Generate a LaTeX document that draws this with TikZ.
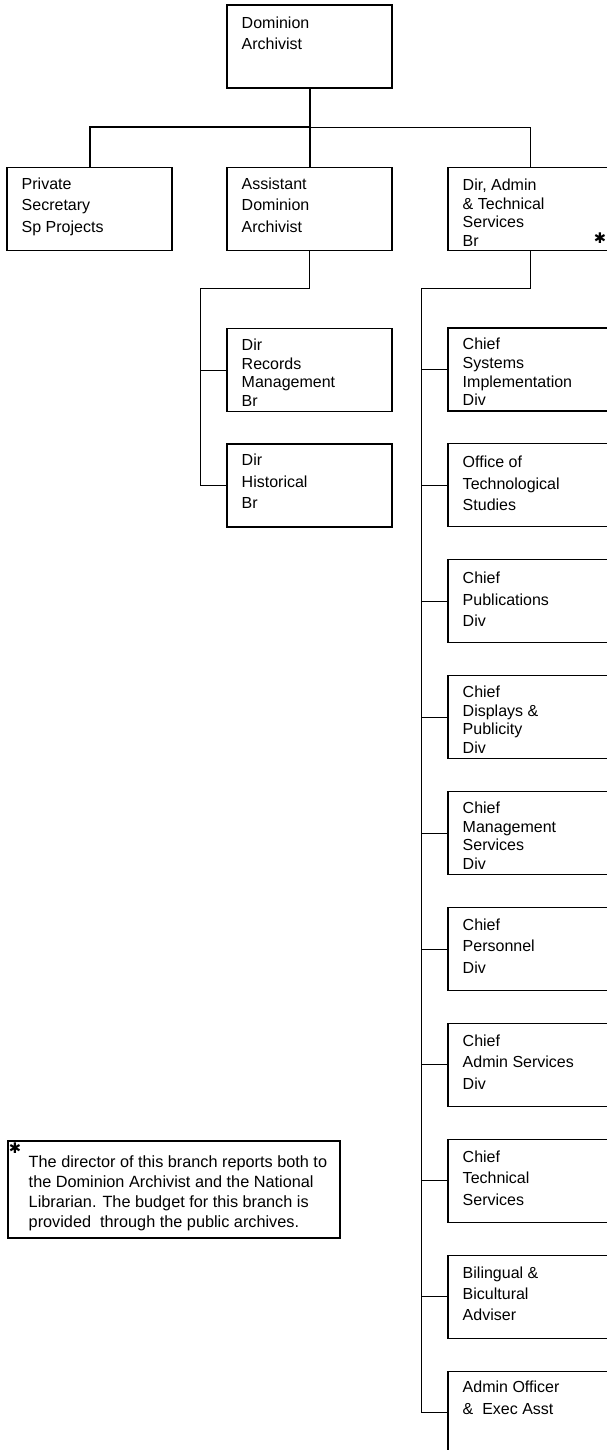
\documentclass[tikz,border=0pt]{standalone}
\usepackage{fontspec}
\setmainfont{Liberation Sans}
\newfontfamily\symfont{DejaVu Sans}
\usepackage{tikz}
\usetikzlibrary{positioning}

\begin{document}
\begin{tikzpicture}[
    x=0.75pt, y=-0.75pt,
    every node/.style={font=\fontsize{12}{16.1}\selectfont},
    box/.style={rectangle, draw=black, line width=0.8pt, minimum width=123.75pt, minimum height=62.25pt, inner sep=0pt},
    lbl/.style={anchor=north west, inner sep=0pt, align=left},
    tight/.style={font=\fontsize{12}{14}\selectfont},
    note/.style={font=\fontsize{12.2}{15.2}\selectfont},
    star/.style={inner sep=0pt, font=\symfont\fontsize{11}{11}\selectfont},
    link/.style={line width=0.75pt},
    trunk/.style={line width=1.5pt}
    ]
    \useasboundingbox (0,0) rectangle (607,1450);
    \node[box] (A) at (309.5,46.5) {};
    \node[lbl] (At) at ([shift={(15,12)}]A.north west) {Dominion\\Archivist};
    \node[box] (B) at (89.5,209) {};
    \node[lbl] (Bt) at ([shift={(15,10.5)}]B.north west) {Private\\Secretary\\Sp Projects};
    \node[box] (C) at (309.5,209) {};
    \node[lbl] (Ct) at ([shift={(15,10.5)}]C.north west) {Assistant\\Dominion\\Archivist};
    \node[box] (D) at (530.5,209) {};
    \node[lbl, tight] (Dt) at ([shift={(15,11.5)}]D.north west) {Dir, Admin\\\& Technical\\Services\\Br};
    \node[star] (Ds) at (600,238) {✱};
    \node[box] (E) at (309.5,370) {};
    \node[lbl, tight] (Et) at ([shift={(15,10.5)}]E.north west) {Dir\\Records\\Management\\Br};
    \node[box] (F) at (309.5,485.5) {};
    \node[lbl] (Ft) at ([shift={(15,10.5)}]F.north west) {Dir\\Historical\\Br};
    \node[box] (G) at (530.5,369.5) {};
    \node[lbl, tight] (Gt) at ([shift={(15,10.5)}]G.north west) {Chief\\Systems\\Implementation\\Div};
    \node[box] (H) at (530.5,485.4) {};
    \node[lbl] (Ht) at ([shift={(15,12.5)}]H.north west) {Office of\\Technological\\Studies};
    \node[box] (I) at (530.5,601.3) {};
    \node[lbl] (It) at ([shift={(15,12.5)}]I.north west) {Chief\\Publications\\Div};
    \node[box] (J) at (530.5,717.2) {};
    \node[lbl, tight] (Jt) at ([shift={(15,10.5)}]J.north west) {Chief\\Displays \&\\Publicity\\Div};
    \node[box] (K) at (530.5,833.1) {};
    \node[lbl, tight] (Kt) at ([shift={(15,10.5)}]K.north west) {Chief\\Management\\Services\\Div};
    \node[box] (L) at (530.5,949) {};
    \node[lbl] (Lt) at ([shift={(15,11.5)}]L.north west) {Chief\\Personnel\\Div};
    \node[box] (M) at (530.5,1064.9) {};
    \node[lbl] (Mt) at ([shift={(15,11.5)}]M.north west) {Chief\\Admin Services\\Div};
    \node[box] (N) at (530.5,1180.8) {};
    \node[lbl] (Nt) at ([shift={(15,11.5)}]N.north west) {Chief\\Technical\\Services};
    \node[box] (O) at (530.5,1296.7) {};
    \node[lbl] (Ot) at ([shift={(15,11.5)}]O.north west) {Bilingual \&\\Bicultural\\Adviser};
    \node[box] (P) at (530.5,1412.6) {};
    \node[lbl] (Pt) at ([shift={(15,10.5)}]P.north west) {Admin Officer\\\& \ Exec Asst};
    \node[box, minimum width=249pt, minimum height=72.75pt] (Q) at (174,1189.5) {};
    \node[star] (Qs) at (15,1148) {✱};
    \node[lbl, note] (Qt) at ([shift={(21,14.5)}]Q.north west) {The director of this branch reports both to\\the Dominion Archivist and the National\\Librarian. The budget for this branch is\\provided\ \ through the public archives.};
    \coordinate (A1) at (309.5,127);
    \coordinate (C1) at (200,288);
    \coordinate (D1) at (421,288);
    \draw[trunk] (A) -- (A1);
    \draw[trunk] (A1) -- (C);
    \draw[trunk] (A1) -| (B);
    \draw[link] (A1) -| (D);
    \draw[link] (C) |- (C1) |- (F);
    \draw[link] (E.west) -- (E.west -| C1);
    \draw[link] (D) |- (D1) |- (P);
    \draw[link] (G.west) -- (G.west -| D1);
    \draw[link] (H.west) -- (H.west -| D1);
    \draw[link] (I.west) -- (I.west -| D1);
    \draw[link] (J.west) -- (J.west -| D1);
    \draw[link] (K.west) -- (K.west -| D1);
    \draw[link] (L.west) -- (L.west -| D1);
    \draw[link] (M.west) -- (M.west -| D1);
    \draw[link] (N.west) -- (N.west -| D1);
    \draw[link] (O.west) -- (O.west -| D1);
\end{tikzpicture}
\end{document}
